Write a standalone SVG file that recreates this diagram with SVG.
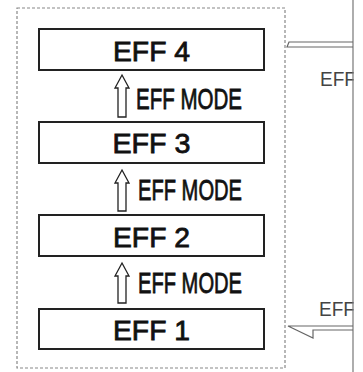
<svg xmlns="http://www.w3.org/2000/svg" width="363" height="372" viewBox="0 0 363 372">
<style>
.box{fill:#fff;stroke:#222;stroke-width:2}
.lbl{font-family:"Liberation Sans",Arial,sans-serif;font-size:28px;fill:#111;stroke:#111;stroke-width:0.8;text-anchor:middle}
.mode{font-family:"Liberation Sans",Arial,sans-serif;font-size:30px;fill:#111;stroke:#111;stroke-width:0.8}
.side{font-family:"Liberation Sans",Arial,sans-serif;font-size:20px;fill:#444}
.harrow{fill:#fff;stroke:#222;stroke-width:1.3;stroke-linejoin:miter}
.conn{fill:none;stroke:#666;stroke-width:1.2}
</style>
<rect width="363" height="372" fill="#fff"/>
<rect x="17" y="8" width="268" height="360" fill="none" stroke="#888" stroke-width="1.2" stroke-dasharray="3,2"/>
<g id="eff4"><rect class="box" x="39" y="29" width="225" height="41"/><text class="lbl" x="151.5" y="61" textLength="77" lengthAdjust="spacingAndGlyphs">EFF 4</text></g>
<g id="eff3"><rect class="box" x="39" y="122" width="225" height="41"/><text class="lbl" x="151.5" y="153" textLength="78" lengthAdjust="spacingAndGlyphs">EFF 3</text></g>
<g id="eff2"><rect class="box" x="39" y="215" width="225" height="41"/><text class="lbl" x="151.5" y="247" textLength="77" lengthAdjust="spacingAndGlyphs">EFF 2</text></g>
<g id="eff1"><rect class="box" x="39" y="309" width="225" height="40"/><text class="lbl" x="151.5" y="340" textLength="77" lengthAdjust="spacingAndGlyphs">EFF 1</text></g>
<g id="connectors">
<path class="harrow" d="M122,75 L129,88 L126,88 L126,117 L118,117 L118,88 L115,88 Z"/>
<text class="mode" x="136" y="109" textLength="106" lengthAdjust="spacingAndGlyphs">EFF MODE</text>
<path class="harrow" d="M122,170 L129,183 L126,183 L126,211 L118,211 L118,183 L115,183 Z"/>
<text class="mode" x="138" y="200" textLength="104" lengthAdjust="spacingAndGlyphs">EFF MODE</text>
<path class="harrow" d="M122,263 L129,276 L126,276 L126,303 L118,303 L118,276 L115,276 Z"/>
<text class="mode" x="138" y="293" textLength="104" lengthAdjust="spacingAndGlyphs">EFF MODE</text>
<text class="side" x="320" y="86" textLength="36" lengthAdjust="spacingAndGlyphs">EFF</text>
<text class="side" x="319" y="316" textLength="36" lengthAdjust="spacingAndGlyphs">EFF</text>
<rect x="353.6" y="0" width="10" height="372" fill="#fff"/>
<line x1="353" y1="0" x2="353" y2="372" stroke="#777" stroke-width="1.2"/>
<path class="conn" d="M353,42 L289,42 L287,47 L353,47"/>
<path class="conn" d="M353,326 L288,326 L313,338 L313,330 L353,330"/>
</g>
</svg>
